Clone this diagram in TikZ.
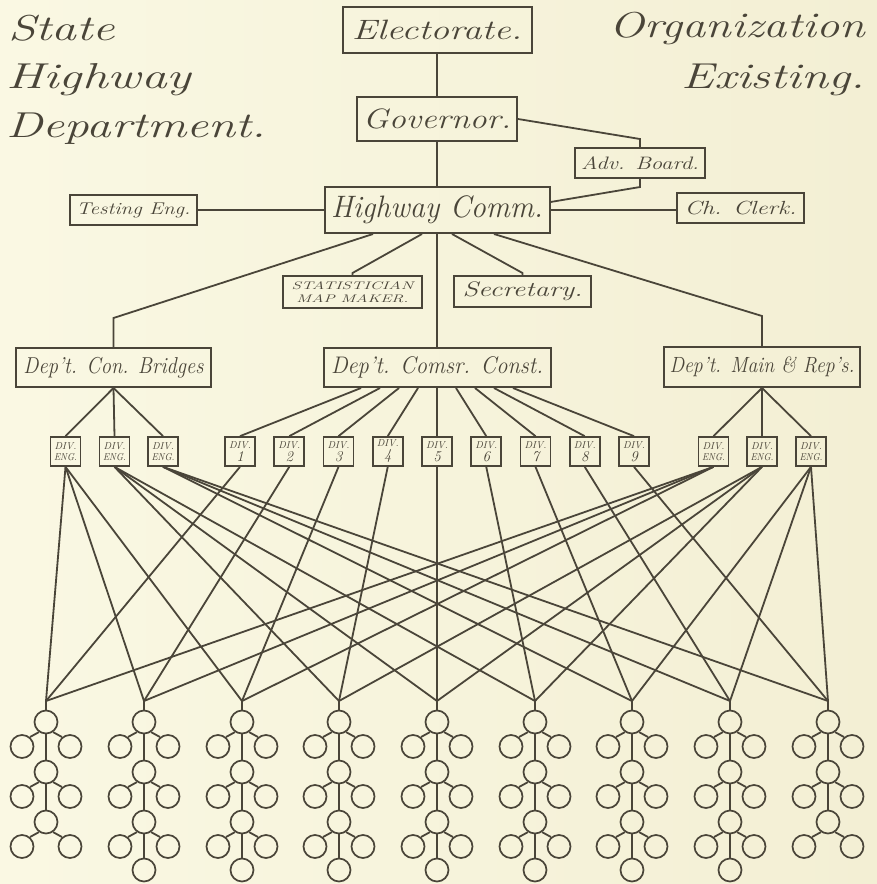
\documentclass[tikz,border=0pt]{standalone}
\usepackage{graphicx}
\usetikzlibrary{calc}
\definecolor{paperL}{HTML}{FAF8E3}
\definecolor{paperR}{HTML}{F3EFD4}
\definecolor{ink}{HTML}{4A4539}
% scale a piece of text horizontally to a given width (in pt), keeping its height
\newcommand{\wfit}[2]{\resizebox{#1pt}{\height}{#2}}
\newcommand{\fs}[1]{\fontsize{#1}{#1}\selectfont}
\tikzset{
  box/.style={draw=ink, line width=2pt, inner sep=0pt, text=ink, font=\itshape},
  link/.style={draw=ink, line width=1.8pt},
  divbox/.style={draw=ink, line width=1.7pt, inner sep=0pt, text=ink,
    minimum width=30pt, minimum height=29pt, align=center,
    font=\itshape\fontsize{10}{11}\selectfont},
  leaf/.style={circle, draw=ink, line width=1.7pt, minimum size=23pt, inner sep=0pt},
  title/.style={text=ink, font=\itshape\fontsize{36}{36}\selectfont, inner sep=0pt},
}
\begin{document}
\begin{tikzpicture}[x=1pt,y=-1pt]
\shade[left color=paperL, right color=paperR] (0,0) rectangle (877,884);
\useasboundingbox (0,0) rectangle (877,884);

% titles
\node[title, anchor=base west] (tState) at (8,40) {\wfit{107}{State}};
\node[title, anchor=base west] (tHigh) at (6,88) {\wfit{185}{Highway}};
\node[title, anchor=base west] (tDept) at (6,137) {\wfit{260}{Department.}};
\node[title, anchor=base east] (tOrg) at (865,37) {\wfit{255}{Organization}};
\node[title, anchor=base east] (tExi) at (865,88) {\wfit{183}{Existing.}};

% upper chart
\node[box, minimum width=189pt, minimum height=46pt] (el) at (437,30) {\wfit{170}{\fs{28}Electorate.}};
\node[box, minimum width=160pt, minimum height=44pt] (gov) at (437,119) {\wfit{148}{\fs{28}Governor.}};
\node[box, minimum width=225pt, minimum height=46pt] (hc) at (437,210) {\wfit{212}{\fs{31}Highway Comm.}};
\node[box, minimum width=130pt, minimum height=30pt] (adv) at (640,163) {\wfit{118}{\fs{18}Adv. Board.}};
\node[box, minimum width=127pt, minimum height=30pt] (cc) at (740.5,208) {\wfit{112}{\fs{19}Ch. Clerk.}};
\node[box, minimum width=127pt, minimum height=30pt] (te) at (133.5,210) {\wfit{114}{\fs{17}Testing Eng.}};
\node[box, minimum width=139pt, minimum height=32pt, align=center] (stat) at (352.5,292)
  {\wfit{122}{\fs{11}STATISTICIAN}\\[1pt]\wfit{112}{\fs{11}MAP MAKER.}};
\node[box, minimum width=137pt, minimum height=31pt] (sec) at (522.5,291.5) {\wfit{120}{\fs{21}Secretary.}};
\node[box, minimum width=195pt, minimum height=39pt] (dcb) at (113.5,367.5) {\wfit{180}{\fs{23}Dep't. Con. Bridges}};
\node[box, minimum width=227pt, minimum height=39pt] (dc) at (437,367.5) {\wfit{212}{\fs{24}Dep't. Comsr. Const.}};
\node[box, minimum width=196pt, minimum height=40pt] (dm) at (762,367) {\wfit{185}{\fs{22}Dep't. Main \& Rep's.}};

\draw[link] (el.south) -- (el.south |- gov.north);
\draw[link] (gov.south) -- (gov.south |- hc.north);
\coordinate (advin) at (640,139);
\draw[link] (gov.east) -- (advin) -- (adv.north);
\coordinate (advout) at (640,187);
\draw[link] (adv.south) -- (advout) -- ($(hc.east)+(0,-8)$);
\draw[link] (hc.east) -- (hc.east -| cc.west);
\draw[link] (te.east) -- (te.east -| hc.west);
\coordinate (bk) at (113.5,318);
\draw[link] ($(hc.south)+(-64,0)$) -- (bk) -- (dcb.north);
\coordinate (sk) at (352.5,273);
\draw[link] ($(hc.south)+(-15,0)$) -- (sk) -- (stat.north);
\coordinate (seck) at (522.5,273);
\draw[link] ($(hc.south)+(15,0)$) -- (seck) -- (sec.north);
\coordinate (mk) at (762,316);
\draw[link] ($(hc.south)+(57,0)$) -- (mk) -- (dm.north);
\draw[link] (hc.south) -- (dc.north);

% division boxes
\foreach \i/\x in {1/65.5,2/114.5,3/163}
  \node[divbox] (le\i) at (\x,451.5) {\wfit{22}{DIV.}\\\wfit{23}{ENG.}};
\foreach \i/\x in {1/713.5,2/762,3/811}
  \node[divbox] (re\i) at (\x,451.5) {\wfit{22}{DIV.}\\\wfit{23}{ENG.}};
\foreach \i in {1,...,9} {
  \pgfmathsetmacro{\dx}{437+49.25*(\i-5)}
  \node[divbox] (d\i) at (\dx,451.5) {\wfit{22}{DIV.}\\[2pt]{\fontsize{15}{11}\selectfont\i}};
  \draw[link] ($(dc.south)+({19*(\i-5)},0)$) -- (d\i.north);
}
\foreach \i in {1,2,3} {
  \draw[link] (dcb.south) -- (le\i.north);
  \draw[link] (dm.south) -- (re\i.north);
}

% field organisation trees
\foreach \k/\tx in {1/46,2/144,3/242,4/339,5/437,6/535,7/632,8/730,9/828} {
  \coordinate (t\k) at (\tx,701);
  \foreach \n/\y in {1/722,2/772,3/822} {
    \node[leaf] (t\k c\n) at (\tx,\y) {};
    \node[leaf] (t\k l\n) at (\tx-24,\y+24.5) {};
    \node[leaf] (t\k r\n) at (\tx+24,\y+24.5) {};
    \draw[link] (t\k c\n.235) -- (t\k l\n.50);
    \draw[link] (t\k c\n.305) -- (t\k r\n.130);
  }
  \draw[link] (t\k) -- (t\k c1.north);
  \draw[link] (t\k c1.south) -- (t\k c2.north);
  \draw[link] (t\k c2.south) -- (t\k c3.north);
  \ifnum\k>1 \ifnum\k<9
    \node[leaf] (t\k c4) at (\tx,870) {};
    \draw[link] (t\k c3.south) -- (t\k c4.north);
  \fi\fi
}

% division lines down to the field trees
\foreach \i in {1,...,9}
  \draw[link] (d\i.south) -- (t\i);
\foreach \i in {1,2,3} {
  \foreach \j in {1,2,3} {
    \pgfmathtruncatemacro{\tk}{3*(\i-1)+\j}
    \draw[link] (le\i.south) -- (t\tk);
    \draw[link] (re\i.south) -- (t\tk);
  }
}
\end{tikzpicture}
\end{document}
